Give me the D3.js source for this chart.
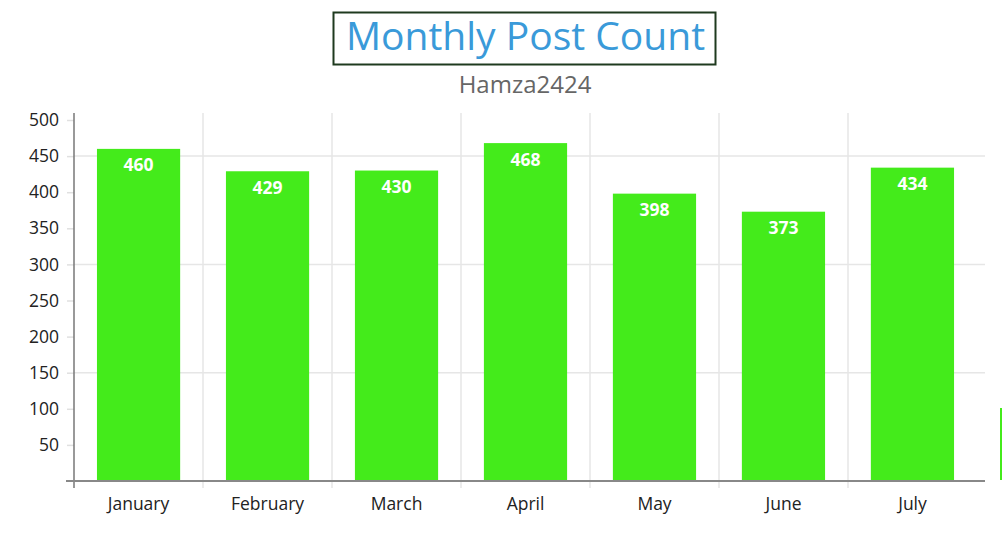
<!DOCTYPE html>
<html>
<head>
<meta charset="utf-8">
<script src="https://cdn.jsdelivr.net/npm/d3@7"></script>
<style>
    body { margin: 0; background: #fff; font-family: "Open Sans", sans-serif; }
    svg text { font-family: "Open Sans", sans-serif; }
    .tick text { font-size: 17.5px; fill: #222; }
    .grid line { stroke: #e6e6e6; stroke-width: 1.5px; }
    .bar-label { fill: #fff; font-weight: bold; font-size: 17.5px; text-anchor: middle; }
</style>
</head>
<body>
<svg id="chart" width="1002" height="547"></svg>
<script>
// data
const months = ["January", "February", "March", "April", "May", "June", "July"];
const posts = [460, 429, 430, 468, 398, 373, 434];
const yTicks = [50, 100, 150, 200, 250, 300, 350, 400, 450, 500];
const gridTicks = [150, 300, 450];

const svg = d3.select("#chart");
const margin = { top: 113, left: 74, bottom: 481, right: 977 };

// scales
const x = d3.scaleBand().domain(months).range([margin.left, margin.right]).paddingInner(0.355).paddingOuter(0.178);
const xb = d3.scaleBand().domain(months).range([margin.left, margin.right]);
const y = d3.scaleLinear().domain([0, 500]).range([margin.bottom, 120]);

// title
svg.append("rect")
    .attr("x", 333.5).attr("y", 12.5).attr("width", 382).attr("height", 52)
    .attr("fill", "none").attr("stroke", "#1f3a1f").attr("stroke-width", 2);
svg.append("text")
    .attr("x", 525.5).attr("y", 50)
    .attr("text-anchor", "middle")
    .attr("fill", "#3a9ad9")
    .style("font-size", "39px")
    .text("Monthly Post Count");
svg.append("text")
    .attr("x", 525).attr("y", 93)
    .attr("text-anchor", "middle")
    .attr("fill", "#666")
    .style("font-size", "24px")
    .text("Hamza2424");

// grid
const grid = svg.append("g").classed("grid", true);
grid.selectAll("line.h")
    .data(gridTicks)
    .enter().append("line")
    .attr("x1", margin.left).attr("x2", 985)
    .attr("y1", d => y(d)).attr("y2", d => y(d));
grid.selectAll("line.v")
    .data(months.slice(1))
    .enter().append("line")
    .attr("x1", d => xb(d)).attr("x2", d => xb(d))
    .attr("y1", margin.top).attr("y2", 488);

// bars
const bgs = svg.selectAll("g.bar-gp")
    .data(months.map((m, i) => ({ month: m, value: posts[i] })))
    .enter().append("g")
    .classed("bar-gp", true);

bgs.append("rect")
    .attr("x", d => x(d.month))
    .attr("y", d => y(d.value))
    .attr("width", x.bandwidth())
    .attr("height", d => y(0) - y(d.value))
    .attr("fill", "#44eb1b");

bgs.append("text")
    .classed("bar-label", true)
    .attr("x", d => x(d.month) + x.bandwidth() / 2)
    .attr("y", d => y(d.value) + 22.5)
    .text(d => d.value);

// y axis
const yAxis = svg.append("g")
    .attr("transform", `translate(${margin.left}, 0)`)
    .call(d3.axisLeft(y).tickValues(yTicks).tickSize(7).tickPadding(8));
yAxis.select(".domain").remove();
yAxis.selectAll(".tick line").attr("stroke", "#e0e0e0").attr("stroke-width", 1.5);
svg.append("line")
    .attr("x1", margin.left).attr("x2", margin.left)
    .attr("y1", margin.top).attr("y2", 488)
    .attr("stroke", "#777").attr("stroke-width", 1.5);

// x axis
const xAxis = svg.append("g")
    .attr("transform", `translate(0, ${margin.bottom})`)
    .call(d3.axisBottom(xb).tickSize(0).tickPadding(17));
xAxis.select(".domain").remove();
svg.append("line")
    .attr("x1", 66).attr("x2", 985)
    .attr("y1", margin.bottom).attr("y2", margin.bottom)
    .attr("stroke", "#888").attr("stroke-width", 2);

// legend swatch (cut off at the right edge)
svg.append("rect")
    .attr("x", 1000).attr("y", 408).attr("width", 20).attr("height", 72)
    .attr("fill", "#44eb1b");
</script>
</body>
</html>
